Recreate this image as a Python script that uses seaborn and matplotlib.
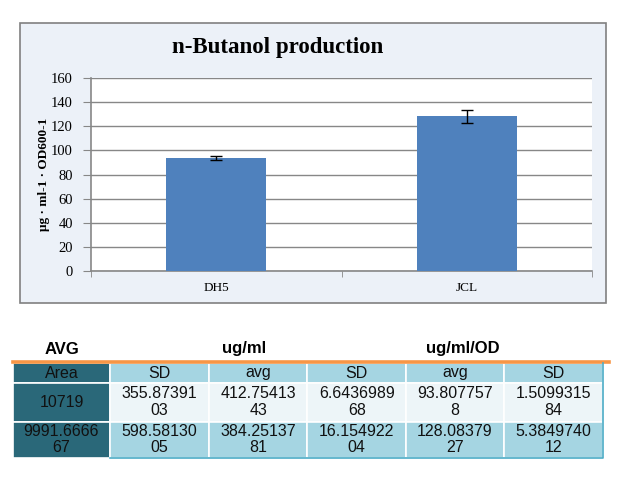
import matplotlib
matplotlib.use("Agg")
import matplotlib.pyplot as plt
import seaborn as sns
from matplotlib.patches import Rectangle
from matplotlib.lines import Line2D

# datos del gráfico
strains = ["DH5", "JCL"]
butanol_avg = [93.8077578, 128.0837927]   # ug/ml/OD
butanol_sd = [1.509931584, 5.384974012]

# datos de la tabla
col_labels = ["Area", "SD", "avg", "SD", "avg", "SD"]
area = ["10719", "9991.666667"]
ugml_sd = ["355.8739103", "598.5813005"]
ugml_avg = ["412.7541343", "384.2513781"]
ugml_sd2 = ["6.643698968", "16.15492204"]
od_avg = ["93.8077578", "128.0837927"]
od_sd = ["1.509931584", "5.384974012"]

W, H = 623, 479
fig = plt.figure(figsize=(W / 100, H / 100), dpi=100)
fig.patch.set_facecolor("white")


def fx(px):
    return px / W


def fy(py):
    return 1 - py / H


# panel del gráfico (detrás de los ejes)
fig.patches.append(Rectangle((fx(20), fy(303)), fx(586), 280 / H,
                             transform=fig.transFigure, facecolor="#ECF1F8",
                             edgecolor="#808080", linewidth=1.2, zorder=-10))

ax = fig.add_axes([fx(91), fy(271), fx(501), 193 / H])
ax.set_facecolor("white")
sns.barplot(x=strains, y=butanol_avg, color="#4F81BD", width=0.4,
            saturation=1, ax=ax, zorder=3)
ax.errorbar(range(len(strains)), butanol_avg, yerr=butanol_sd, fmt="none",
            ecolor="black", elinewidth=1, capsize=4, capthick=1, zorder=4)

ax.set_ylim(0, 160)
ax.set_xlim(-0.5, 1.5)
ax.set_yticks(range(0, 161, 20))
ax.yaxis.grid(True, color="#878787", linewidth=1)
ax.set_axisbelow(True)
for s in ["top", "right"]:
    ax.spines[s].set_visible(False)
for s in ["left", "bottom"]:
    ax.spines[s].set_color("#878787")
    ax.spines[s].set_linewidth(1.2)
ax.tick_params(axis="y", length=6, color="#878787", pad=7)
ax.tick_params(axis="x", length=0, pad=8)
ax.set_xticks([-0.5, 0.5, 1.5], minor=True)
ax.tick_params(axis="x", which="minor", length=4, color="#878787")
for lab in ax.get_yticklabels():
    lab.set_fontfamily("Liberation Serif")
    lab.set_fontsize(10.5)
for lab in ax.get_xticklabels():
    lab.set_fontfamily("Liberation Serif")
    lab.set_fontsize(9.5)
ax.set_xlabel("")
ax.set_ylabel("μg · ml-1 · OD600-1", fontfamily="Liberation Serif",
              fontweight="bold", fontsize=9.5, labelpad=1)

fig.text(fx(278), fy(48), "n-Butanol production", ha="center", va="center",
         fontfamily="Liberation Serif", fontweight="bold", fontsize=16.5)

# tabla
fig.text(fx(62), fy(349), "AVG", ha="center", va="center",
         fontfamily="Liberation Sans", fontweight="bold", fontsize=12)
fig.text(fx(244), fy(349), "ug/ml", ha="center", va="center",
         fontfamily="Liberation Sans", fontweight="bold", fontsize=12)
fig.text(fx(463), fy(349), "ug/ml/OD", ha="center", va="center",
         fontfamily="Liberation Sans", fontweight="bold", fontsize=12)
fig.lines.append(Line2D([fx(13), fx(609)], [fy(361.5), fy(361.5)],
                        transform=fig.transFigure, color="#F79646",
                        linewidth=2.6))


def wrap(s, n=9):
    return s if len(s) <= n else s[:n] + "\n" + s[n:]


rows = [col_labels]
for i in range(2):
    rows.append([wrap(c[i]) for c in [area, ugml_sd, ugml_avg, ugml_sd2, od_avg, od_sd]])

teal = "#2A6879"
light = "#A5D5E2"
pale = "#EDF5F8"
colours = [[teal] + [light] * 5, [teal] + [pale] * 5, [teal] + [light] * 5]

tax = fig.add_axes([fx(13), fy(457.5), fx(590), 94.5 / H])
tax.axis("off")
tbl = tax.table(cellText=rows, cellColours=colours, cellLoc="center",
                bbox=[0, 0, 1, 1])
tbl.auto_set_font_size(False)
col_w = [97, 99, 98.5, 98.5, 98, 99]
row_h = [20, 38.5, 36]
for (r, c), cell in tbl.get_celld().items():
    cell.set_width(col_w[c])
    cell.set_height(row_h[r])
    cell.set_edgecolor("white")
    cell.set_linewidth(1.2)
    cell.get_text().set_fontfamily("Liberation Sans")
    cell.get_text().set_fontsize(11.5)
    cell.get_text().set_color("#111111")
    cell.get_text().set_linespacing(1.15)

fig.lines.append(Line2D([fx(110), fx(603), fx(603)], [fy(458), fy(458), fy(363)],
                        transform=fig.transFigure, color="#4BACC6",
                        linewidth=1.2))

fig.savefig("out.png", dpi=100)
